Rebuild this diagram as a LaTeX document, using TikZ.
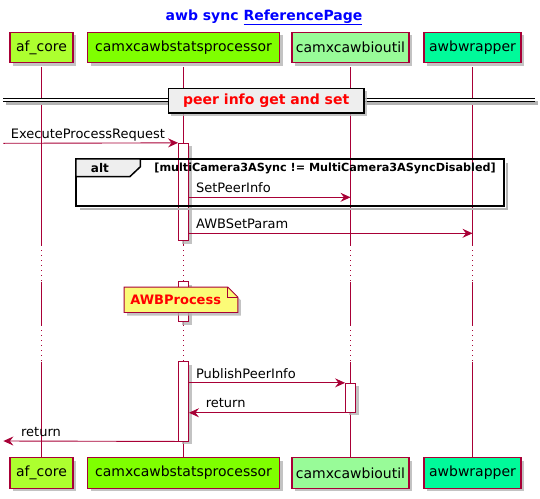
\documentclass[tikz,border=0pt]{standalone}
\usepackage{fontspec}
\setmainfont{DejaVu Sans}
\usetikzlibrary{arrows.meta,calc,shadows}
\definecolor{pred}{HTML}{A80036}
\definecolor{cA}{HTML}{ADFF2F}
\definecolor{cB}{HTML}{7FFF00}
\definecolor{cC}{HTML}{98FB98}
\definecolor{cD}{HTML}{00FA9A}
\definecolor{grayE}{HTML}{EEEEEE}
\definecolor{noteY}{HTML}{FBFB77}
\definecolor{shadowc}{HTML}{B4B4B4}
\tikzset{
  shd/.style={drop shadow={shadow xshift=3pt,shadow yshift=-3pt,fill=shadowc,opacity=0.8}},
  part/.style={draw=pred,line width=1.1pt,minimum height=30.5pt,inner sep=0pt,shd,font=\fontsize{14}{16}\selectfont},
  life/.style={draw=pred,line width=0.9pt},
  lifedot/.style={life,dash pattern=on 1pt off 4pt},
  actbox/.style={draw=pred,fill=white,line width=0.9pt,minimum width=10pt,inner sep=0pt,shd},
  msg/.style={draw=pred,line width=0.9pt,-{Stealth[length=10pt,width=9pt,inset=3.5pt]}},
  lbl/.style={font=\fontsize{13}{15}\selectfont,inner sep=0pt,text=black},
}
\begin{document}
\begin{tikzpicture}[x=1pt,y=-1pt]
\useasboundingbox (0,0) rectangle (540,498);
% title
\node[font=\fontsize{14}{16}\selectfont\bfseries,text=blue,inner sep=0pt] (title) at (264,17.3) {awb sync \underline{ReferencePage}};
% participants
\node[part,fill=cA,minimum width=63pt] (p1t) at (41.5,47.5) {af\_core};
\node[part,fill=cB,minimum width=192pt] (p2t) at (183.5,47.5) {camxcawbstatsprocessor};
\node[part,fill=cC,minimum width=117pt] (p3t) at (350.5,47.5) {camxcawbioutil};
\node[part,fill=cD,minimum width=97pt] (p4t) at (472.5,47.5) {awbwrapper};
\node[part,fill=cA,minimum width=63pt] (p1b) at (41.5,473) {af\_core};
\node[part,fill=cB,minimum width=192pt] (p2b) at (183.5,473) {camxcawbstatsprocessor};
\node[part,fill=cC,minimum width=117pt] (p3b) at (350.5,473) {camxcawbioutil};
\node[part,fill=cD,minimum width=97pt] (p4b) at (472.5,473) {awbwrapper};
% delay levels
\coordinate (dA) at (0,245);
\coordinate (dB) at (0,281.7);
\coordinate (dC) at (0,325);
\coordinate (dD) at (0,361.7);
\foreach \p in {p1,p2,p3,p4}{
  \draw[life] ($(\p t.south)+(0,4)$) -- (\p t.south |- dA);
  \draw[lifedot] (\p t.south |- dA) -- (\p t.south |- dB);
  \draw[life] (\p t.south |- dB) -- (\p t.south |- dC);
  \draw[lifedot] (\p t.south |- dC) -- (\p t.south |- dD);
  \draw[life] (\p t.south |- dD) -- (\p b.north);
}
% divider
\coordinate (divl) at (3.4,100);
\coordinate (divr) at (535,100);
\draw[shadowc,line width=0.8pt,double=shadowc,double distance=1.6pt] ($(divl)+(3,3)$) -- ($(divr)+(3,3)$);
\draw[black,line width=0.8pt,double=white,double distance=1.6pt] (divl) -- (divr);
\node[draw=black,line width=1.6pt,fill=grayE,minimum width=195.6pt,minimum height=24.4pt,inner sep=0pt,shd,font=\fontsize{14}{16}\selectfont\bfseries,text=red] (div) at (266.2,100.5) {peer info get and set};
% activation boxes
\node[actbox,minimum height=97.4pt] (act1) at (183.5,192) {};
\node[actbox,minimum height=40pt] (act2) at (183.5,301.7) {};
\node[actbox,minimum height=79.3pt] (act3) at (183.5,401.35) {};
\node[actbox,minimum height=29pt] (act4) at (350.5,397.8) {};
% alt frame
\node[minimum width=427.7pt,minimum height=47pt,inner sep=0pt] (alt) at (289.95,182.5) {};
\draw[shadowc,line width=2pt] ($(alt.north east)+(3,4)$) -- ($(alt.south east)+(3,3)$) -- ($(alt.south west)+(4,3)$);
\draw[black,line width=1.5pt] (alt.north west) rectangle (alt.south east);
\draw[black,line width=1.5pt,fill=grayE] (alt.north west) -- ++(64.4,0) -- ++(0,8) -- ++(-10.3,9.7) -- ($(alt.north west)+(0,17.7)$) -- cycle;
\node[font=\fontsize{12}{14}\selectfont\bfseries,inner sep=0pt] (altlbl) at (99.9,168) {alt};
\node[font=\fontsize{11.2}{13}\selectfont\bfseries,inner sep=0pt,anchor=east] (cond) at (495.9,168) {[multiCamera3ASync != MultiCamera3ASyncDisabled]};
% messages
\coordinate (ext1) at (3.4,143.3);
\coordinate (ext2) at (3.4,441);
\coordinate (yS) at (0,197.3);
\coordinate (yW) at (0,233.3);
\draw[msg] (ext1) -- node[lbl,at start,anchor=base west,xshift=7pt,yshift=4.5pt] (m1) {ExecuteProcessRequest} (act1.north west);
\draw[msg] (act1.east |- yS) -- node[lbl,at start,anchor=base west,xshift=6.7pt,yshift=4.8pt] (m2) {SetPeerInfo} (p3t.south |- yS);
\draw[msg] (act1.east |- yW) -- node[lbl,at start,anchor=base west,xshift=6.7pt,yshift=4.8pt] (m3) {AWBSetParam} (p4t.south |- yW);
\draw[msg] (act3.east |- act4.north) -- node[lbl,at start,anchor=base west,xshift=6.7pt,yshift=4.8pt] (m4) {PublishPeerInfo} (act4.north west);
\draw[msg] (act4.south west) -- node[lbl,at end,anchor=base west,xshift=16.4pt,yshift=4.8pt] (m5) {return} (act3.east |- act4.south);
\draw[msg] (act3.south west) -- node[lbl,at end,anchor=base west,xshift=17.3pt,yshift=4.8pt] (m6) {return} (ext2);
% note
\node[minimum width=113.3pt,minimum height=25pt,inner sep=0pt] (note) at (180.95,299.8) {};
\draw[draw=pred,fill=noteY,line width=0.9pt,shd] (note.north west) -- ($(note.north east)+(-10,0)$) -- ($(note.north east)+(0,10)$) -- (note.south east) -- (note.south west) -- cycle;
\draw[draw=pred,line width=0.9pt] ($(note.north east)+(-10,0)$) -- ++(0,10) -- ++(10,0);
\node[font=\fontsize{13}{15}\selectfont\bfseries,text=red,inner sep=0pt,anchor=west] (notetxt) at (130.2,299.8) {AWBProcess};
\end{tikzpicture}
\end{document}
